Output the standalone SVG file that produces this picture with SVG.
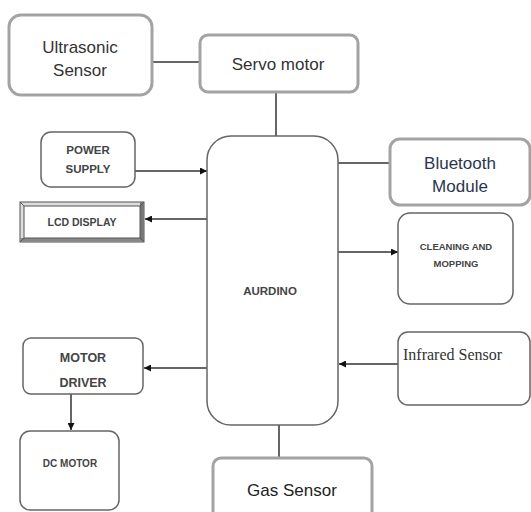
<svg xmlns="http://www.w3.org/2000/svg" width="531" height="512" viewBox="0 0 531 512">
<style>
.thick{fill:#fff;stroke:#a3a3a3;stroke-width:3}
.thin{fill:#fff;stroke:#666;stroke-width:1.5}
.t{font-family:"Liberation Sans",Arial,sans-serif;font-size:17px;fill:#333;text-anchor:middle}
.b{font-family:"Liberation Sans",Arial,sans-serif;font-weight:bold;fill:#444;text-anchor:middle}
.ln{stroke:#333;stroke-width:1.5;fill:none}
</style>
<defs>
<marker id="ah" viewBox="0 0 10 10" refX="10" refY="5" markerWidth="7" markerHeight="7" markerUnits="userSpaceOnUse" orient="auto">
<path d="M0,0 L10,5 L0,10 z" fill="#111"/>
</marker>
</defs>
<rect width="531" height="512" fill="#fff"/>
<g id="connectors">
<line class="ln" x1="152" y1="62" x2="199" y2="62"/>
<line class="ln" x1="276" y1="92" x2="276" y2="136"/>
<line class="ln" x1="135" y1="171" x2="207" y2="171" marker-end="url(#ah)"/>
<line class="ln" x1="207" y1="219" x2="145" y2="219" marker-end="url(#ah)"/>
<line class="ln" x1="338" y1="163" x2="390" y2="163"/>
<line class="ln" x1="338" y1="252" x2="398" y2="252" marker-end="url(#ah)"/>
<line class="ln" x1="398" y1="364" x2="339" y2="364" marker-end="url(#ah)"/>
<line class="ln" x1="207" y1="368" x2="144" y2="368" marker-end="url(#ah)"/>
<line class="ln" x1="71" y1="394" x2="71" y2="430" marker-end="url(#ah)"/>
<line class="ln" x1="279" y1="425" x2="279" y2="458"/>
</g>
<g id="ultrasonic">
<rect class="thick" x="9" y="15" width="143" height="80" rx="12"/>
<text class="t" x="80" y="53">Ultrasonic</text>
<text class="t" x="80" y="76">Sensor</text>
</g>
<g id="servo">
<rect class="thick" x="200" y="35" width="158" height="57" rx="8"/>
<text class="t" x="278" y="70">Servo motor</text>
</g>
<g id="aurdino">
<rect class="thin" x="207" y="136" width="131" height="289" rx="24"/>
<text class="b" x="270" y="295" font-size="11.5">AURDINO</text>
</g>
<g id="power">
<rect class="thin" x="41" y="132" width="94" height="55" rx="10"/>
<text class="b" x="88" y="154" font-size="11.5">POWER</text>
<text class="b" x="88" y="173" font-size="11.5">SUPPLY</text>
</g>
<g id="lcd">
<rect x="20" y="202" width="124" height="40" fill="#ddd" stroke="#555" stroke-width="1"/>
<polygon points="140,202 144,202 144,242 140,238" fill="#777"/>
<polygon points="20,238 24,238 140,238 144,242 20,242" fill="#888"/>
<rect x="24" y="206" width="116" height="32" fill="#fff" stroke="#555" stroke-width="1"/>
<line x1="20" y1="202" x2="24" y2="206" stroke="#555" stroke-width="1"/>
<line x1="144" y1="202" x2="140" y2="206" stroke="#555" stroke-width="1"/>
<line x1="20" y1="242" x2="24" y2="238" stroke="#555" stroke-width="1"/>
<line x1="144" y1="242" x2="140" y2="238" stroke="#555" stroke-width="1"/>
<text class="b" x="82" y="226" font-size="10.5">LCD DISPLAY</text>
</g>
<g id="bluetooth">
<rect class="thick" x="390" y="139" width="140" height="66" rx="10"/>
<text class="t" x="460" y="169" style="fill:#2a3550">Bluetooth</text>
<text class="t" x="460" y="192" style="fill:#2a3550">Module</text>
</g>
<g id="cleaning">
<rect class="thin" x="398" y="213" width="115" height="91" rx="12"/>
<text class="b" x="456" y="250" font-size="9.5">CLEANING AND</text>
<text class="b" x="456" y="267" font-size="9.5">MOPPING</text>
</g>
<g id="infrared">
<rect class="thin" x="398" y="332" width="132" height="73" rx="10"/>
<text x="403" y="360" font-family="'Liberation Serif','Times New Roman',serif" font-size="16" fill="#333">Infrared Sensor</text>
</g>
<g id="motordriver">
<rect class="thin" x="23" y="338" width="120" height="56" rx="8"/>
<text class="b" x="83" y="362" font-size="12.5">MOTOR</text>
<text class="b" x="83" y="387" font-size="12.5">DRIVER</text>
</g>
<g id="dcmotor">
<rect class="thin" x="20" y="431" width="99" height="79" rx="10"/>
<text class="b" x="70" y="467" font-size="10">DC MOTOR</text>
</g>
<g id="gas">
<rect class="thick" x="213" y="458" width="159" height="62" rx="8"/>
<text class="t" x="292" y="496" style="fill:#222">Gas Sensor</text>
</g>
</svg>
